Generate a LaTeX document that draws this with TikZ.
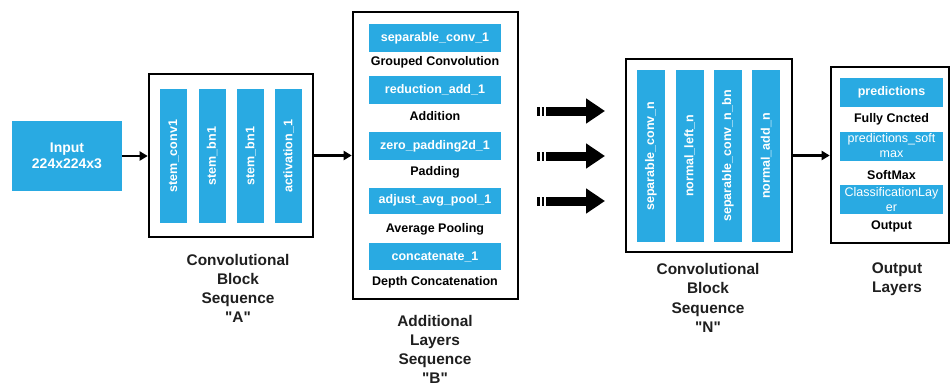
\documentclass[tikz,border=0pt]{standalone}
\usepackage{fontspec}
\setmainfont{Liberation Sans}
\usetikzlibrary{arrows.meta}
\definecolor{layerblue}{RGB}{41,170,226}
\tikzset{
  frame/.style={draw=black, line width=2.6pt, fill=white, inner sep=0pt},
  hbar/.style={fill=layerblue, inner sep=0pt, text=white, align=center,
    font=\fontsize{12.5}{15}\selectfont\bfseries},
  thinbar/.style={hbar, font=\fontsize{12.5}{15}\selectfont},
  vbar/.style={hbar, rotate=90},
  caption/.style={inner sep=0pt, align=center,
    font=\fontsize{12.5}{15}\selectfont\bfseries},
  title/.style={inner sep=0pt, align=center, text=black!88,
    font=\fontsize{15.4}{19.2}\selectfont\bfseries},
  link/.style={line width=2.6pt, -{Triangle[length=8pt,width=9pt]}},
  bigarrow/.style={line width=9pt,
    dash pattern=on 2.5pt off 2pt on 2.5pt off 2pt on 80pt off 0pt,
    -{Triangle[length=19pt,width=24pt]}}
}
\newcommand{\qq}[1]{\textquotedbl#1\textquotedbl}
\begin{document}
\begin{tikzpicture}[x=1pt,y=-1pt]
\useasboundingbox (0,0) rectangle (952,388);

% input layer
\node[hbar, minimum width=110pt, minimum height=70pt,
  font=\fontsize{14}{16.5}\selectfont\bfseries] (input) at (67,156) {Input\\224x224x3};

% convolutional block A
\node[frame, minimum width=164pt, minimum height=163pt] (blockA) at (231,155.5) {};
\foreach \x/\t [count=\i] in {173.5/stem\_conv1, 212/stem\_bn1, 250.5/stem\_bn1, 288.5/activation\_1}
  \node[vbar, minimum width=134pt, minimum height=27pt] (a\i) at (\x,156) {\t};
\node[title] (titleA) at (238,288.5) {Convolutional\\Block\\Sequence\\\qq{A}};

% additional layers B
\node[frame, minimum width=165pt, minimum height=287pt] (blockB) at (435.5,155.5) {};
\node[hbar, minimum width=132pt, minimum height=28pt] (b1) at (435,38) {separable\_conv\_1};
\node[caption] (c1) at (435,62) {Grouped Convolution};
\node[hbar, minimum width=132pt, minimum height=28pt] (b2) at (435,90) {reduction\_add\_1};
\node[caption] (c2) at (435,116) {Addition};
\node[hbar, minimum width=132pt, minimum height=28pt] (b3) at (435,146) {zero\_padding2d\_1};
\node[caption] (c3) at (435,172) {Padding};
\node[hbar, minimum width=132pt, minimum height=26pt] (b4) at (435,200.5) {adjust\_avg\_pool\_1};
\node[caption] (c4) at (435,229) {Average Pooling};
\node[hbar, minimum width=132pt, minimum height=27pt] (b5) at (435,256.5) {concatenate\_1};
\node[caption] (c5) at (435,282) {Depth Concatenation};
\node[title] (titleB) at (435,349.5) {Additional\\Layers\\Sequence\\\qq{B}};

% repeated blocks
\foreach \y [count=\i] in {111,156,201} {
  \coordinate (s\i) at (537,\y);
  \coordinate (e\i) at (605,\y);
  \draw[bigarrow] (s\i) -- (e\i);
}

% convolutional block N
\node[frame, minimum width=166pt, minimum height=193pt] (blockN) at (709,155.5) {};
\foreach \x/\t [count=\i] in {651/separable\_conv\_n, 689.5/normal\_left\_n, 728/separable\_conv\_n\_bn, 766/normal\_add\_n}
  \node[vbar, minimum width=172pt, minimum height=28pt] (n\i) at (\x,156) {\t};
\node[title] (titleN) at (708,298) {Convolutional\\Block\\Sequence\\\qq{N}};

% output layers
\node[frame, minimum width=118pt, minimum height=176pt] (blockO) at (890,155) {};
\node[hbar, minimum width=103pt, minimum height=29pt] (o1) at (891.5,92.5) {predictions};
\node[caption] (d1) at (891.5,119) {Fully Cncted};
\node[thinbar, minimum width=103pt, minimum height=29pt] (o2) at (891.5,146) {predictions\_soft\\max};
\node[caption] (d2) at (891.5,175) {SoftMax};
\node[thinbar, minimum width=103pt, minimum height=29pt] (o3) at (891.5,199.5) {ClassificationLay\\er};
\node[caption] (d3) at (891.5,226) {Output};
\node[title] (titleO) at (897,279.5) {Output\\Layers};

% connectors
\draw[link] (input.east) -- (blockA.west |- input.east);
\draw[link] (blockA.east) -- (blockB.west |- blockA.east);
\draw[link] (blockN.east) -- (blockO.west |- blockN.east);
\end{tikzpicture}
\end{document}
